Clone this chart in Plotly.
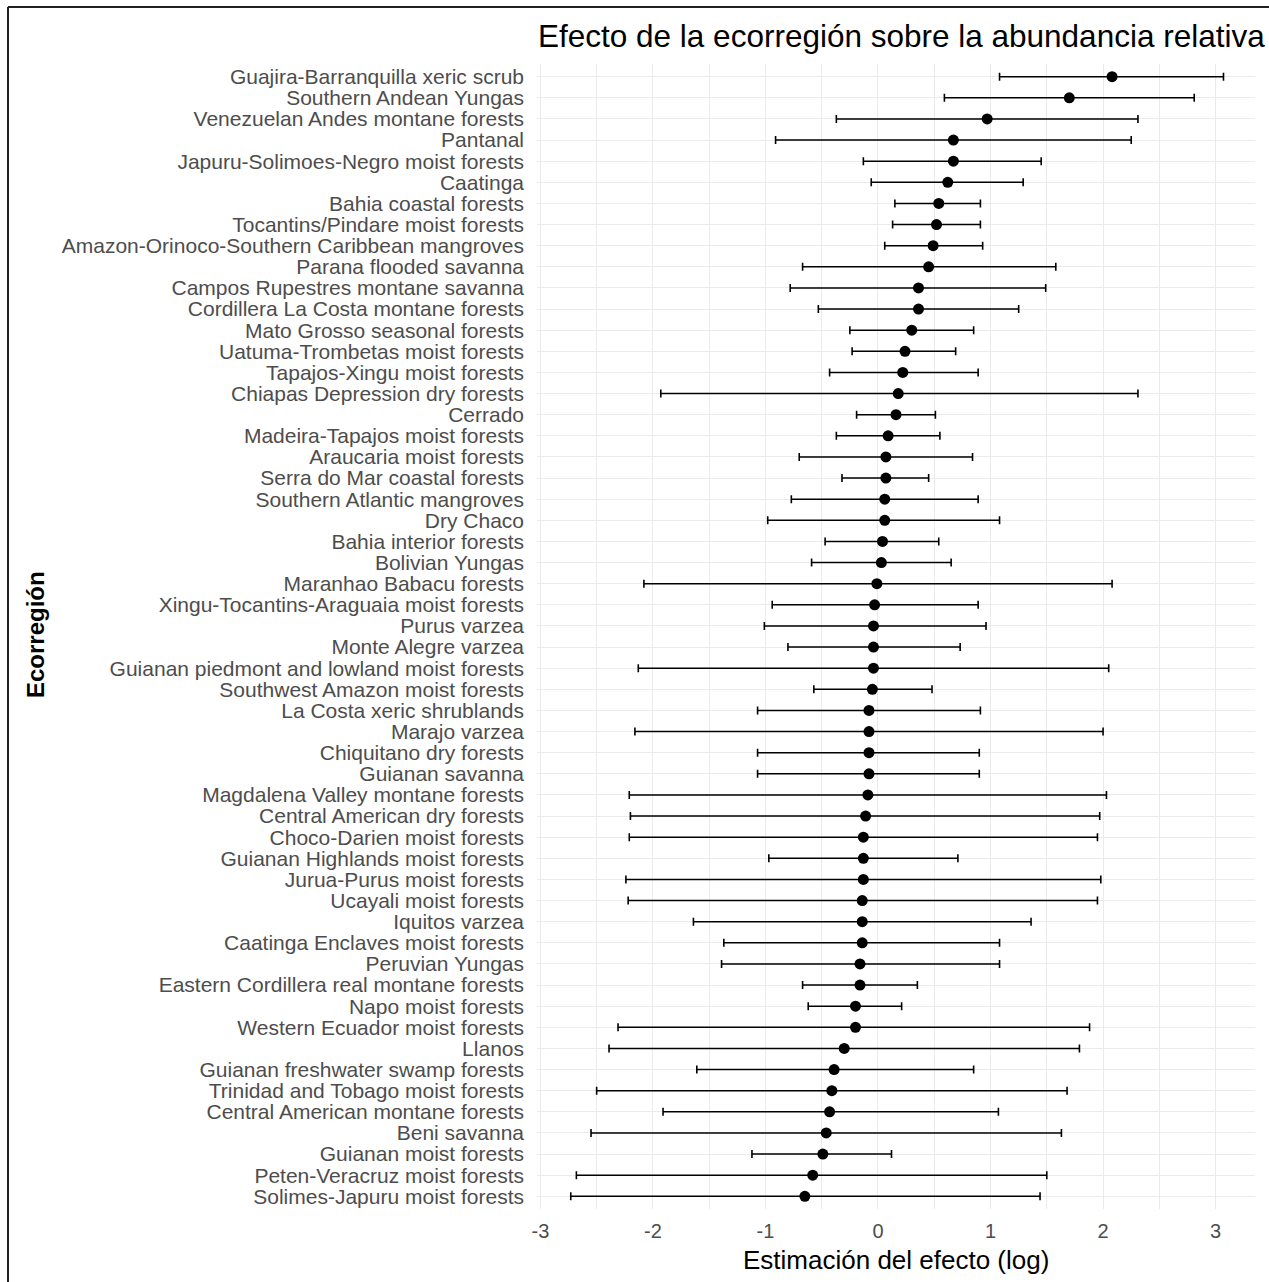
import plotly.graph_objects as go

# Ecoregions, listed top to bottom as drawn
regions = [
    "Guajira-Barranquilla xeric scrub", "Southern Andean Yungas",
    "Venezuelan Andes montane forests", "Pantanal",
    "Japuru-Solimoes-Negro moist forests", "Caatinga",
    "Bahia coastal forests", "Tocantins/Pindare moist forests",
    "Amazon-Orinoco-Southern Caribbean mangroves", "Parana flooded savanna",
    "Campos Rupestres montane savanna", "Cordillera La Costa montane forests",
    "Mato Grosso seasonal forests", "Uatuma-Trombetas moist forests",
    "Tapajos-Xingu moist forests", "Chiapas Depression dry forests",
    "Cerrado", "Madeira-Tapajos moist forests", "Araucaria moist forests",
    "Serra do Mar coastal forests", "Southern Atlantic mangroves", "Dry Chaco",
    "Bahia interior forests", "Bolivian Yungas", "Maranhao Babacu forests",
    "Xingu-Tocantins-Araguaia moist forests", "Purus varzea",
    "Monte Alegre varzea", "Guianan piedmont and lowland moist forests",
    "Southwest Amazon moist forests", "La Costa xeric shrublands",
    "Marajo varzea", "Chiquitano dry forests", "Guianan savanna",
    "Magdalena Valley montane forests", "Central American dry forests",
    "Choco-Darien moist forests", "Guianan Highlands moist forests",
    "Jurua-Purus moist forests", "Ucayali moist forests", "Iquitos varzea",
    "Caatinga Enclaves moist forests", "Peruvian Yungas",
    "Eastern Cordillera real montane forests", "Napo moist forests",
    "Western Ecuador moist forests", "Llanos",
    "Guianan freshwater swamp forests", "Trinidad and Tobago moist forests",
    "Central American montane forests", "Beni savanna",
    "Guianan moist forests", "Peten-Veracruz moist forests",
    "Solimes-Japuru moist forests",
]

estimate = [
    2.08, 1.70, 0.97, 0.67, 0.67, 0.62, 0.54, 0.52, 0.49, 0.45,
    0.36, 0.36, 0.30, 0.24, 0.22, 0.18, 0.16, 0.09, 0.07, 0.07,
    0.06, 0.06, 0.04, 0.03, -0.01, -0.03, -0.04, -0.04, -0.04, -0.05,
    -0.08, -0.08, -0.08, -0.08, -0.09, -0.11, -0.13, -0.13, -0.13, -0.14,
    -0.14, -0.14, -0.16, -0.16, -0.20, -0.20, -0.30, -0.39, -0.41, -0.43,
    -0.46, -0.49, -0.58, -0.65,
]

lower = [
    1.08, 0.59, -0.37, -0.91, -0.13, -0.06, 0.15, 0.13, 0.06, -0.67,
    -0.78, -0.53, -0.25, -0.23, -0.43, -1.93, -0.19, -0.37, -0.70, -0.32,
    -0.77, -0.98, -0.47, -0.59, -2.08, -0.94, -1.01, -0.80, -2.13, -0.57,
    -1.07, -2.16, -1.07, -1.07, -2.21, -2.20, -2.21, -0.97, -2.24, -2.22,
    -1.64, -1.37, -1.39, -0.67, -0.62, -2.31, -2.39, -1.61, -2.50, -1.91,
    -2.55, -1.12, -2.68, -2.73,
]

upper = [
    3.07, 2.81, 2.31, 2.25, 1.45, 1.29, 0.91, 0.91, 0.93, 1.58,
    1.49, 1.25, 0.85, 0.69, 0.89, 2.31, 0.51, 0.55, 0.84, 0.45,
    0.89, 1.08, 0.54, 0.65, 2.08, 0.89, 0.96, 0.73, 2.05, 0.48,
    0.91, 2.00, 0.90, 0.90, 2.03, 1.97, 1.95, 0.71, 1.98, 1.95,
    1.36, 1.08, 1.08, 0.35, 0.21, 1.88, 1.79, 0.85, 1.68, 1.07,
    1.63, 0.12, 1.50, 1.44,
]

x_ticks = [-3, -2, -1, 0, 1, 2, 3]

err_plus = [u - e for u, e in zip(upper, estimate)]
err_minus = [e - l for e, l in zip(estimate, lower)]

FONT = "Liberation Sans, Arial, sans-serif"
GRID = "#EBEBEB"

fig = go.Figure()
fig.add_trace(go.Scatter(
    x=estimate,
    y=regions,
    mode="markers",
    marker=dict(color="black", size=11),
    error_x=dict(
        type="data", array=err_plus, arrayminus=err_minus,
        color="black", thickness=1.6, width=4,
    ),
    showlegend=False,
))

# plot panel spans pixels 537..1255 horizontally and 64..1209 vertically
L, R, T, B = 537, 1255, 64, 1209
W, H = 1269, 1282


def px(xp):
    return (xp - L) / (R - L)


def py(yp):
    return (B - yp) / (B - T)


fig.update_layout(
    width=W, height=H,
    margin=dict(l=L, r=W - R, t=T, b=H - B),
    paper_bgcolor="white",
    plot_bgcolor="white",
    font=dict(family=FONT),
    title=dict(
        text="Efecto de la ecorregión sobre la abundancia relativa",
        font=dict(family=FONT, size=31.5, color="black"),
        xref="paper", x=px(538), xanchor="left",
        yref="container", y=1 - 36 / H, yanchor="middle",
    ),
    xaxis=dict(
        range=[-3.03, 3.35],
        tickvals=x_ticks,
        ticktext=[str(v) for v in x_ticks],
        tickfont=dict(family=FONT, size=20, color="#4D4D4D"),
        showgrid=True, gridcolor=GRID, gridwidth=1.2,
        minor=dict(showgrid=True, gridcolor=GRID, gridwidth=0.6,
                   tickvals=[-2.5, -1.5, -0.5, 0.5, 1.5, 2.5]),
        zeroline=False, showline=False,
        ticks="", ticklabelstandoff=8,
    ),
    yaxis=dict(
        categoryorder="array",
        categoryarray=regions[::-1],
        tickmode="array",
        tickvals=regions,
        ticktext=regions,
        range=[-0.6, len(regions) - 0.4],
        tickfont=dict(family=FONT, size=21, color="#4D4D4D"),
        showgrid=True, gridcolor=GRID, gridwidth=1.2,
        zeroline=False, showline=False,
        ticks="", ticklabelstandoff=12,
    ),
    annotations=[
        dict(text="Estimación del efecto (log)", xref="paper", yref="paper",
             x=0.5, y=py(1260), xanchor="center", yanchor="middle",
             showarrow=False, font=dict(family=FONT, size=26, color="black")),
        dict(text="<b>Ecorregión</b>", xref="paper", yref="paper",
             x=px(35), y=py(635), xanchor="center", yanchor="middle",
             textangle=-90, showarrow=False,
             font=dict(family=FONT, size=24, color="black")),
    ],
    shapes=[
        dict(type="line", xref="paper", yref="paper",
             x0=px(8), x1=px(8), y0=py(H + 5), y1=py(7),
             line=dict(color="#222222", width=2)),
        dict(type="line", xref="paper", yref="paper",
             x0=px(8), x1=px(W + 5), y0=py(7), y1=py(7),
             line=dict(color="#222222", width=2)),
    ],
)

fig.write_html("out.html")
